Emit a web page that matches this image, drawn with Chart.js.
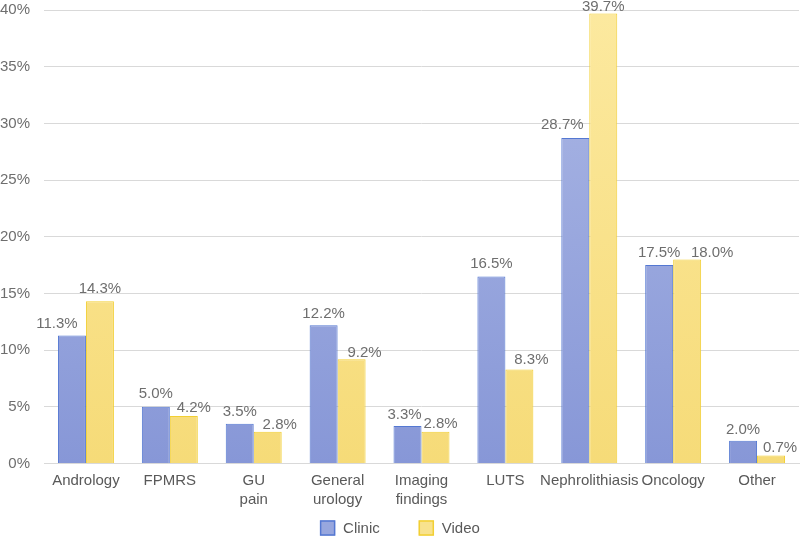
<!DOCTYPE html>
<html>
<head>
<meta charset="utf-8">
<script src="https://cdn.jsdelivr.net/npm/chart.js@4/dist/chart.umd.min.js"></script>
<style>
  html, body { margin: 0; padding: 0; background: #fff; }
  #wrap { width: 800px; height: 537px; }
</style>
</head>
<body>
<div id="wrap"><canvas id="chart"></canvas></div>
<script>
// data
const categories = ['Andrology', 'FPMRS', ['GU', 'pain'], ['General', 'urology'], ['Imaging', 'findings'], 'LUTS', 'Nephrolithiasis', 'Oncology', 'Other'];
const clinicValues = [11.3, 5.0, 3.5, 12.2, 3.3, 16.5, 28.7, 17.5, 2.0];
const videoValues = [14.3, 4.2, 2.8, 9.2, 2.8, 8.3, 39.7, 18.0, 0.7];
const yTicks = [0, 5, 10, 15, 20, 25, 30, 35, 40];

const FONT = '"Liberation Sans", Arial, Helvetica, sans-serif';

function vGradient(ctx, area, top, bottom) {
    const g = ctx.createLinearGradient(0, area.top, 0, area.bottom);
    g.addColorStop(0, top);
    g.addColorStop(1, bottom);
    return g;
}

// value labels above the bars (some were hand-nudged in the original)
const barLabels = {
    id: 'barLabels',
    afterDatasetsDraw(chart, args, opts) {
        const ctx = chart.ctx;
        ctx.save();
        ctx.font = '15px ' + FONT;
        ctx.fillStyle = '#6e6e6e';
        ctx.textAlign = 'center';
        ctx.textBaseline = 'alphabetic';
        chart.data.datasets.forEach((ds, i) => {
            const dx = opts.dx[i], gap = opts.gap[i];
            chart.getDatasetMeta(i).data.forEach((bar, j) => {
                ctx.fillText(ds.data[j].toFixed(1) + '%', bar.x + dx[j], bar.y - gap[j]);
            });
        });
        ctx.restore();
    }
};

// legend drawn under the axis, centred
const bottomLegend = {
    id: 'bottomLegend',
    afterDraw(chart) {
        const ctx = chart.ctx;
        const box = 15, afterBox = 8, between = 39, y = 528;
        ctx.save();
        ctx.font = '15px ' + FONT;
        ctx.textBaseline = 'middle';
        const items = chart.data.datasets.map(ds => ({ text: ds.label, w: ctx.measureText(ds.label).width, fill: ds.legendFill, stroke: ds.borderColor }));
        let total = items.reduce((s, it) => s + box + afterBox + it.w, 0) + between * (items.length - 1);
        let x = (chart.width - total) / 2;
        items.forEach(it => {
            ctx.fillStyle = it.fill;
            ctx.fillRect(x, y - box / 2, box, box);
            ctx.strokeStyle = it.stroke;
            ctx.lineWidth = 1.5;
            ctx.strokeRect(x + 0.5, y - box / 2 + 0.5, box - 1, box - 1);
            ctx.fillStyle = '#595959';
            ctx.textAlign = 'left';
            ctx.fillText(it.text, x + box + afterBox, y + 1);
            x += box + afterBox + it.w + between;
        });
        ctx.restore();
    }
};

const ctx = document.getElementById('chart').getContext('2d');
new Chart(ctx, {
    type: 'bar',
    data: {
        labels: categories,
        datasets: [{
            label: 'Clinic',
            data: clinicValues,
            backgroundColor: c => c.chart.chartArea ? vGradient(c.chart.ctx, c.chart.chartArea, '#acb8e5', '#8797d7') : '#9aa9de',
            legendFill: '#98a7de',
            borderColor: '#5478d2',
            borderWidth: 1
        }, {
            label: 'Video',
            data: videoValues,
            backgroundColor: c => c.chart.chartArea ? vGradient(c.chart.ctx, c.chart.chartArea, '#fce99f', '#f6db78') : '#f8e290',
            legendFill: '#f8e28e',
            borderColor: '#f2cf33',
            borderWidth: 1
        }]
    },
    options: {
        responsive: true,
        maintainAspectRatio: false,
        animation: false,
        layout: { padding: { top: 10, right: 1, left: 0, bottom: 20 } },
        datasets: { bar: { categoryPercentage: 0.667, barPercentage: 1.0 } },
        plugins: {
            legend: { display: false },
            tooltip: { enabled: false },
            barLabels: {
                dx: [[-15, 0, 0, 0, -3, 0, -13, 0, 0], [0, 10, 12, 13, 5, 12, 0, 25, 9]],
                gap: [[7, 9, 8, 7, 7, 8, 9, 8, 7], [8, 4, 3, 2, 4, 5, 2, 2, 4]]
            }
        },
        scales: {
            x: {
                grid: { display: false, drawTicks: false },
                border: { color: '#d9d9d9' },
                ticks: {
                    color: '#595959',
                    padding: 8,
                    maxRotation: 0,
                    autoSkip: false,
                    font: { size: 15, family: FONT, lineHeight: 1.25 }
                }
            },
            y: {
                min: 0,
                max: 40,
                afterBuildTicks: axis => { axis.ticks = yTicks.map(v => ({ value: v })); },
                afterFit: axis => { axis.width = 44; axis.paddingTop = 0; axis.paddingBottom = 0; },
                grid: { color: '#d9d9d9', drawTicks: false },
                border: { display: false },
                ticks: {
                    padding: 14,
                    color: '#6e6e6e',
                    font: { size: 15, family: FONT },
                    callback: v => v + '%'
                }
            }
        }
    },
    plugins: [barLabels, bottomLegend]
});
</script>
</body>
</html>
